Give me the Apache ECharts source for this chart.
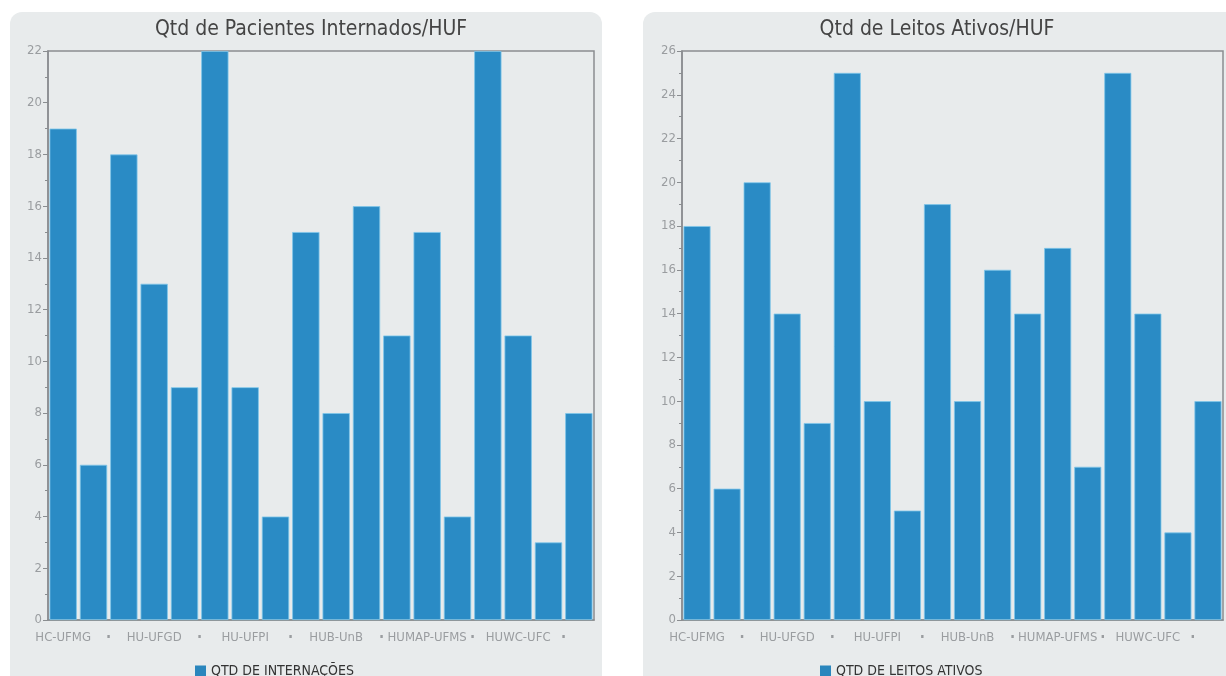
<!DOCTYPE html>
<html><head><meta charset="utf-8">
<script src="https://cdn.jsdelivr.net/npm/echarts@6/dist/echarts.min.js"></script>
<style>html,body{margin:0;padding:0;background:#fff;}#c{width:1226px;height:676px;}</style>
</head><body><div id="c"></div>
<script>
const tickLabels = ["HC-UFMG","·","","HU-UFGD","·","","HU-UFPI","·","","HUB-UnB","·","","HUMAP-UFMS","·","","HUWC-UFC","·",""];
const internacoes = [19,6,18,13,9,22,9,4,15,8,16,11,15,4,22,11,3,8];
const leitos = [18,6,20,14,9,25,10,5,19,10,16,14,17,7,25,14,4,10];
const titles = ["Qtd de Pacientes Internados/HUF","Qtd de Leitos Ativos/HUF"];
const seriesNames = ["QTD DE INTERNAÇÕES","QTD DE LEITOS ATIVOS"];
const yMax = [22,26];

const F = "DejaVu Sans Condensed";
const chart = echarts.init(document.getElementById('c'));
function xAxis(i){return {type:'category',gridIndex:i,data:tickLabels,
  axisLine:{lineStyle:{color:'#8a8d90',width:1.5}},
  axisTick:{interval:(idx)=>idx%3===0,alignWithLabel:true,length:5,lineStyle:{color:'#8a8d90'}},
  axisLabel:{interval:0,color:'#9a9da0',fontFamily:F,fontSize:13,margin:11,
    formatter:(v)=>v==='·'?'{d|·}':v,
    rich:{d:{padding:[0,0,0,30],color:'#9a9da0',fontSize:15,fontWeight:'bold',fontFamily:F}}}};}
function yAxis(i){return {type:'value',gridIndex:i,min:0,max:yMax[i],interval:2,
  axisLine:{show:true,lineStyle:{color:'#8a8d90',width:1.5}},
  axisTick:{show:true,length:5,lineStyle:{color:'#8a8d90'}},
  minorTick:{show:true,splitNumber:2,length:3,lineStyle:{color:'#8a8d90'}},
  splitLine:{show:false},
  axisLabel:{color:'#9a9da0',fontFamily:F,fontSize:13,margin:6}};}
function bar(i,data){return {type:'bar',name:seriesNames[i],xAxisIndex:i,yAxisIndex:i,data:data,
  barCategoryGap:'10%',itemStyle:{color:'#2a8bc5',borderColor:'#7fc6ea',borderWidth:0.8}};}
const legendBase = {itemWidth:11,itemHeight:11,itemGap:6,icon:'rect',
  itemStyle:{borderWidth:0,color:'#2a86bd'},textStyle:{fontFamily:F,fontSize:14,color:'#333'}};
chart.setOption({
  backgroundColor:'#ffffff',
  animation:false,
  graphic:[
    {type:'rect',shape:{x:10,y:12,width:592,height:700,r:12},style:{fill:'#e8ebec'},z:-10},
    {type:'rect',shape:{x:643,y:12,width:620,height:700,r:12},style:{fill:'#e8ebec'},z:-10}
  ],
  title:[
    {text:titles[0],left:306,textAlign:'center',top:14,textStyle:{fontFamily:F,fontSize:21,fontWeight:'normal',color:'#444'}},
    {text:titles[1],left:932,textAlign:'center',top:14,textStyle:{fontFamily:F,fontSize:21,fontWeight:'normal',color:'#444'}}
  ],
  legend:[
    Object.assign({data:[seriesNames[0]],left:190,top:659},legendBase),
    Object.assign({data:[seriesNames[1]],left:815,top:659},legendBase)
  ],
  grid:[
    {left:48,width:546,top:51,height:569,show:true,borderColor:'#8a8d90',borderWidth:1.5,backgroundColor:'transparent'},
    {left:682,width:541,top:51,height:569,show:true,borderColor:'#8a8d90',borderWidth:1.5,backgroundColor:'transparent'}
  ],
  xAxis:[xAxis(0),xAxis(1)],
  yAxis:[yAxis(0),yAxis(1)],
  series:[bar(0,internacoes),bar(1,leitos)]
});
</script></body></html>
